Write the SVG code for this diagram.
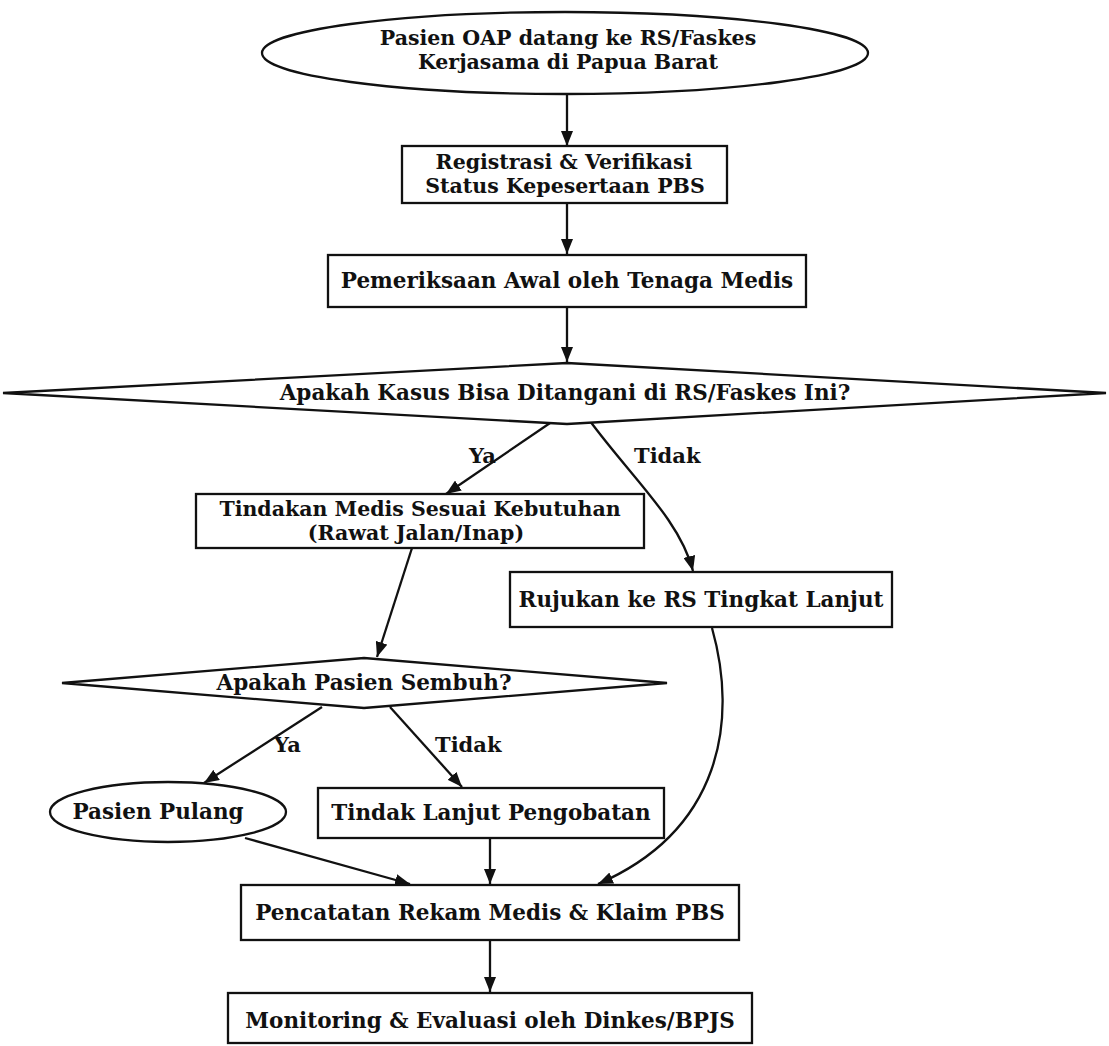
<svg xmlns="http://www.w3.org/2000/svg" width="1109" height="1046" viewBox="0 0 1109 1046">
<style>
.n{fill:#fff;stroke:#111;stroke-width:2.3}
.t{font-family:"DejaVu Serif",serif;font-weight:bold;font-size:21.5px;fill:#111;text-anchor:middle}
.t2{font-family:"DejaVu Serif",serif;font-weight:bold;font-size:20.5px;fill:#111;text-anchor:middle}
.l{font-family:"DejaVu Serif",serif;font-weight:bold;font-size:21px;fill:#111}
.e{fill:none;stroke:#111;stroke-width:2.3;marker-end:url(#ah)}
</style>
<defs>
<marker id="ah" markerUnits="userSpaceOnUse" markerWidth="16" markerHeight="12" refX="15" refY="6" orient="auto">
<path d="M0,0 L15,6 L0,12 Z" fill="#111"/>
</marker>
</defs>
<rect width="1109" height="1046" fill="#fff"/>
<g id="connectors">
<path class="e" d="M567,94 L567,146"/>
<path class="e" d="M567,203 L567,254"/>
<path class="e" d="M567,308 L567,362"/>
<path class="e" d="M553,421 L446,494"/>
<path class="e" d="M590,421 C632,478 680,520 693,571"/>
<path class="e" d="M412,548 L377,657"/>
<path class="e" d="M322,707 L204,783"/>
<path class="e" d="M390,707 L462,787"/>
<path class="e" d="M245,838 L410,884"/>
<path class="e" d="M490,838 L490,884"/>
<path class="e" d="M712,628 C738,720 722,830 598,884"/>
<path class="e" d="M490,941 L490,992"/>
<text class="l" x="469" y="463">Ya</text>
<text class="l" x="634" y="463">Tidak</text>
<text class="l" x="274" y="752">Ya</text>
<text class="l" x="435" y="752">Tidak</text>
</g>
<g id="start">
<ellipse class="n" cx="565" cy="53" rx="303" ry="41"/>
<text class="t2" x="568" y="45">Pasien OAP datang ke RS/Faskes</text>
<text class="t2" x="568" y="69">Kerjasama di Papua Barat</text>
</g>
<g id="registrasi">
<rect class="n" x="402" y="146" width="325" height="57"/>
<text class="t2" x="564" y="169">Registrasi &amp; Verifikasi</text>
<text class="t2" x="565" y="193">Status Kepesertaan PBS</text>
</g>
<g id="pemeriksaan">
<rect class="n" x="328" y="255" width="478" height="52"/>
<text class="t" x="567" y="288">Pemeriksaan Awal oleh Tenaga Medis</text>
</g>
<g id="kasus">
<polygon class="n" points="567,363 1106,393 567,424 3,393"/>
<text class="t" x="565" y="400">Apakah Kasus Bisa Ditangani di RS/Faskes Ini?</text>
</g>
<g id="tindakan">
<rect class="n" x="196" y="494" width="448" height="54"/>
<text class="t2" x="420" y="516">Tindakan Medis Sesuai Kebutuhan</text>
<text class="t2" x="416" y="540">(Rawat Jalan/Inap)</text>
</g>
<g id="rujukan">
<rect class="n" x="510" y="572" width="382" height="55"/>
<text class="t" x="701" y="607">Rujukan ke RS Tingkat Lanjut</text>
</g>
<g id="sembuh">
<polygon class="n" points="364,658 667,683 364,708 62,683"/>
<text class="t" x="364" y="690">Apakah Pasien Sembuh?</text>
</g>
<g id="pulang">
<ellipse class="n" cx="168" cy="812" rx="118" ry="30"/>
<text class="t" x="158" y="819">Pasien Pulang</text>
</g>
<g id="tindaklanjut">
<rect class="n" x="318" y="788" width="346" height="50"/>
<text class="t" x="491" y="820">Tindak Lanjut Pengobatan</text>
</g>
<g id="pencatatan">
<rect class="n" x="241" y="885" width="498" height="55"/>
<text class="t" x="490" y="920">Pencatatan Rekam Medis &amp; Klaim PBS</text>
</g>
<g id="monitoring">
<rect class="n" x="228" y="993" width="524" height="50"/>
<text class="t" x="490" y="1028">Monitoring &amp; Evaluasi oleh Dinkes/BPJS</text>
</g>
</svg>
